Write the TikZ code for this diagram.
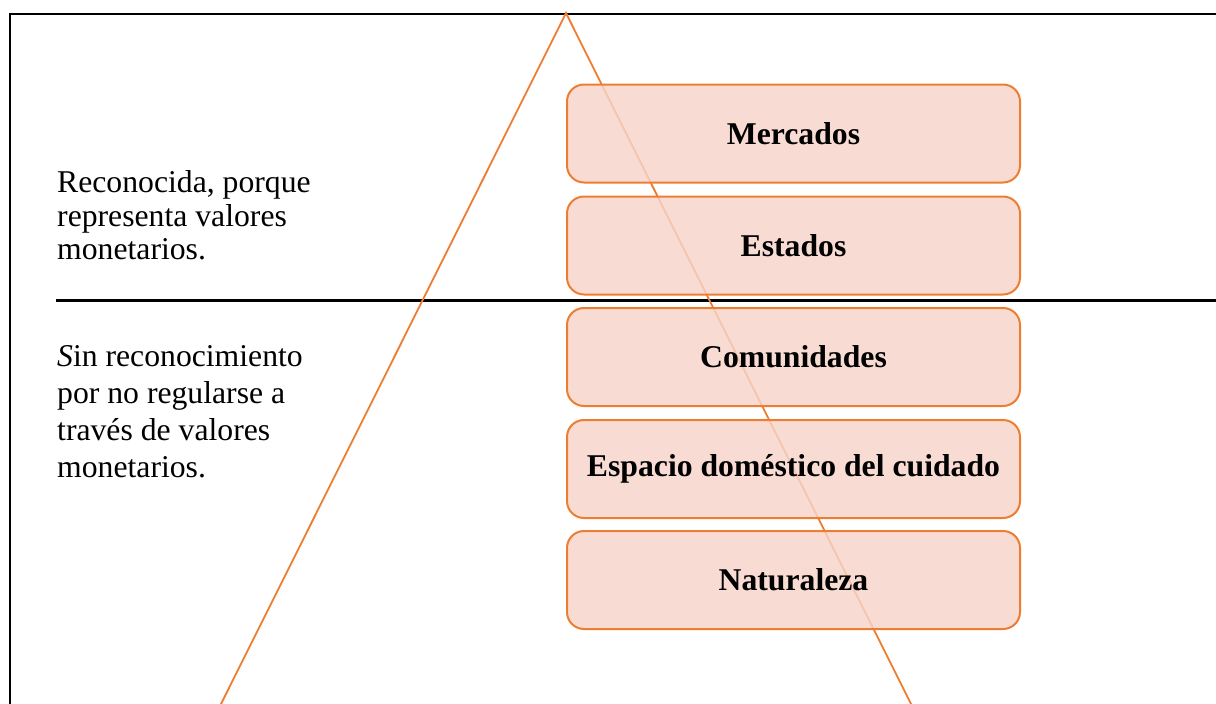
\documentclass[tikz,border=0pt]{standalone}
\usepackage{fontspec}
\setmainfont{Liberation Serif}
\definecolor{orng}{RGB}{237,125,49}
\definecolor{boxfill}{RGB}{247,212,201}
\begin{document}
\begin{tikzpicture}[x=1pt,y=-1pt,
  layerbox/.style={draw=orng, line width=2pt, fill=boxfill, fill opacity=0.82, text opacity=1,
    rounded corners=17pt, minimum width=453pt, minimum height=98pt, inner sep=0pt,
    font=\fontsize{31.7}{36}\selectfont\bfseries},
  sidetext/.style={anchor=base west, align=left, inner sep=0pt, font=\fontsize{31.7}{36}\selectfont}]
\useasboundingbox (0,0) rectangle (1216,704);
% frame (only left and top edges visible)
\draw[line width=1.5pt] (10,704) -- (10,14) -- (1216,14);
% separating line
\draw[line width=3pt] (56,300) -- (1216,300);
% triangle
\coordinate (apex) at (566,13);
\coordinate (bl) at (221,704);
\coordinate (br) at (911,704);
\draw[orng, line width=1.8pt] (bl) -- (apex) -- (br);
% boxes
\node[layerbox] (b1) at (793.5,133.5) {Mercados};
\node[layerbox] (b2) at (793.5,245.5) {Estados};
\node[layerbox] (b3) at (793.5,357) {Comunidades};
\node[layerbox] (b4) at (793.5,469) {Espacio doméstico del cuidado};
\node[layerbox] (b5) at (793.5,580) {Naturaleza};
% side texts
\node[sidetext] (t1a) at (57,192) {Reconocida, porque};
\node[sidetext] (t1b) at (57,226) {representa valores};
\node[sidetext] (t1c) at (57,259) {monetarios.};
\node[sidetext] (t2a) at (57,366) {\textit{S}in reconocimiento};
\node[sidetext] (t2b) at (57,403) {por no regularse a};
\node[sidetext] (t2c) at (57,440) {través de valores};
\node[sidetext] (t2d) at (57,477) {monetarios.};
\end{tikzpicture}
\end{document}
